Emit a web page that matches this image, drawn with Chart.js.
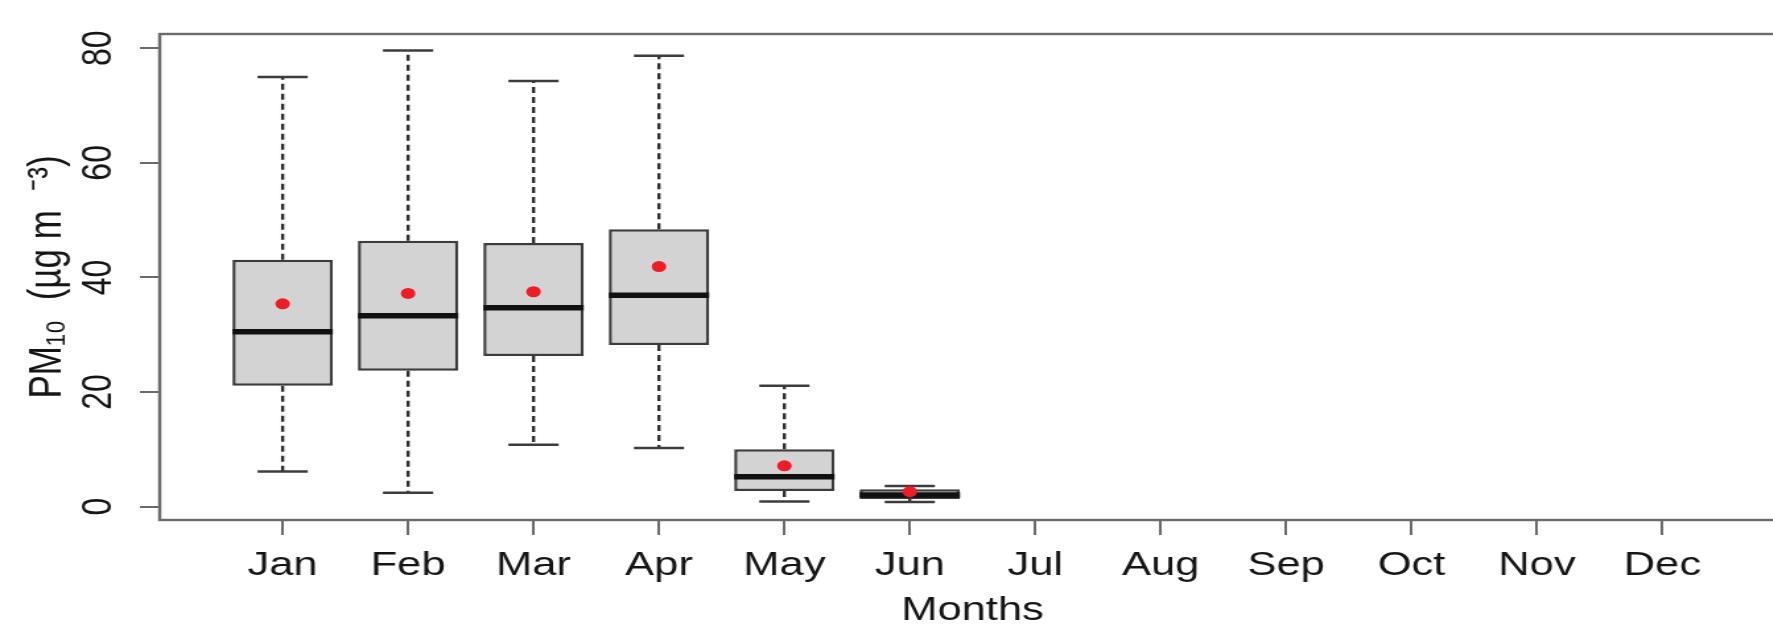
<!DOCTYPE html>
<html>
<head>
<meta charset="utf-8">
<script src="https://cdn.jsdelivr.net/npm/chart.js@4.4.1/dist/chart.umd.min.js"></script>
<style>
  html, body { margin: 0; padding: 0; background: #fff; overflow: hidden; }
  #wrap { width: 1773px; height: 627px; overflow: hidden; }
  /* the original figure is stretched sideways, so the canvas gets the same stretch */
  #pm { display: block; width: 1358px; height: 627px; transform: scaleX(1.32); transform-origin: 0 0; }
</style>
</head>
<body>
<div id="wrap"><canvas id="pm" width="1358" height="627"></canvas></div>
<script>
// monthly PM10 boxplot values (no data from Jul on)
const months = ['Jan', 'Feb', 'Mar', 'Apr', 'May', 'Jun', 'Jul', 'Aug', 'Sep', 'Oct', 'Nov', 'Dec'];
const whiskerLow  = [6.1, 2.4, 10.8, 10.2, 0.9, 0.8, null, null, null, null, null, null];
const q1          = [21.1, 23.7, 26.3, 28.2, 2.7, 1.3, null, null, null, null, null, null];
const median      = [30.5, 33.3, 34.7, 36.9, 5.2, 2.0, null, null, null, null, null, null];
const q3          = [43.1, 46.4, 46.0, 48.4, 10.0, 3.0, null, null, null, null, null, null];
const whiskerHigh = [75.0, 79.6, 74.3, 78.7, 21.1, 3.6, null, null, null, null, null, null];
const mean        = [35.4, 37.2, 37.5, 41.9, 7.1, 2.6, null, null, null, null, null, null];
const yTicks = [0, 20, 40, 60, 80];

const txt = '#151515';
const axisCol = '#6b6b6b';
Chart.defaults.font.family = '"Liberation Sans", Arial, Helvetica, sans-serif';

// build the pieces of each box from the arrays
const boxes = [], meds = [], caps = [], means = [], whiskers = [];
months.forEach((m, i) => {
  if (median[i] === null) return;
  const x = i + 1;
  boxes.push({ x: x, y: [q1[i], q3[i]] });
  meds.push({ x: x, y: median[i] });
  means.push({ x: x, y: mean[i] });
  caps.push({ x: x, y: whiskerLow[i] }, { x: x, y: whiskerHigh[i] });
  whiskers.push({ x: x, y: q3[i] }, { x: x, y: whiskerHigh[i] }, { x: x, y: null },
                { x: x, y: q1[i] }, { x: x, y: whiskerLow[i] }, { x: x, y: null });
});

// half width in pixels of something "units" wide on the x axis
const halfW = units => c => {
  const s = c.chart.scales.x;
  return (s.getPixelForValue(1 + units) - s.getPixelForValue(1)) / 2;
};

const frame = {
  id: 'frame',
  afterDatasetsDraw(chart) {
    const { ctx, chartArea: a } = chart;
    ctx.save();
    ctx.strokeStyle = axisCol;
    ctx.lineWidth = 2.4;
    ctx.strokeRect(a.left, a.top, a.right - a.left, a.bottom - a.top);
    ctx.restore();
  }
};

new Chart(document.getElementById('pm'), {
  type: 'bar',
  data: {
    datasets: [
      {
        type: 'line',
        data: whiskers,
        borderColor: '#2e2e2e',
        borderWidth: 2.4,
        borderDash: [6, 4],
        pointRadius: 0,
        spanGaps: false,
        fill: false,
        order: 4
      },
      {
        type: 'bar',
        data: boxes,
        backgroundColor: '#d3d3d3',
        borderColor: '#3c3c3c',
        borderWidth: 2.5,
        borderSkipped: false,
        barPercentage: 0.8,
        categoryPercentage: 1,
        order: 3
      },
      {
        type: 'scatter',
        data: caps,
        pointStyle: 'line',
        radius: halfW(0.4),
        borderColor: '#3c3c3c',
        borderWidth: 2.5,
        order: 2
      },
      {
        type: 'scatter',
        data: meds,
        pointStyle: 'line',
        radius: halfW(0.8),
        borderColor: '#111',
        borderWidth: 5.5,
        order: 1
      },
      {
        type: 'scatter',
        data: means,
        pointStyle: 'circle',
        radius: 5.5,
        backgroundColor: '#ee1c25',
        borderWidth: 0,
        order: 0
      }
    ]
  },
  options: {
    responsive: false,
    devicePixelRatio: 1,
    animation: false,
    events: [],
    layout: { padding: { top: 34, right: 3, bottom: 0, left: 0 } },
    plugins: { legend: { display: false }, tooltip: { enabled: false } },
    scales: {
      x: {
        type: 'linear',
        offset: false,
        min: 0.02,
        max: 12.98,
        afterBuildTicks: s => { s.ticks = months.map((m, i) => ({ value: i + 1 })); },
        afterFit: s => { s.height = 107; },
        ticks: {
          callback: v => months[v - 1],
          autoSkip: false,
          maxRotation: 0,
          color: txt,
          padding: 11,
          font: { size: 33 }
        },
        grid: { offset: false, drawOnChartArea: false, drawTicks: true, tickLength: 15, color: axisCol, lineWidth: 2 },
        border: { display: false },
        title: { display: true, text: 'Months', color: txt, padding: 0, font: { size: 33, lineHeight: 1 } }
      },
      y: {
        type: 'linear',
        min: -2.35,
        max: 82.5,
        afterBuildTicks: s => { s.ticks = yTicks.map(v => ({ value: v })); },
        afterFit: s => { s.width = 121; },
        ticks: {
          minRotation: 90,
          maxRotation: 90,
          crossAlign: 'center',
          autoSkip: false,
          color: txt,
          padding: 13,
          font: { size: 32 }
        },
        grid: { drawOnChartArea: false, drawTicks: true, tickLength: 15, color: axisCol, lineWidth: 2 },
        border: { display: false },
        title: { display: true, text: 'PM₁₀  (µg m  ⁻³)', color: txt, padding: { top: 19, bottom: 0 }, font: { size: 35, lineHeight: 1 } }
      }
    }
  },
  plugins: [frame]
});
</script>
</body>
</html>
